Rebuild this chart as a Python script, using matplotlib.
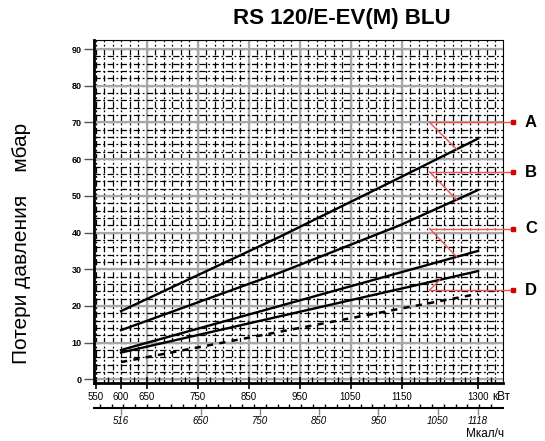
import numpy as np
import matplotlib
matplotlib.use("Agg")
import matplotlib.pyplot as plt

plt.rcParams['font.family'] = ['Liberation Sans', 'DejaVu Sans']

# data (kW vs mbar)
kw_A = [600, 912, 1147, 1300]
mbar_A = [18.6, 38.9, 55.0, 65.6]
kw_B = [600, 912, 1147, 1300]
mbar_B = [13.4, 29.1, 42.0, 51.6]
kw_C = [600, 1300]
mbar_C = [8.0, 35.0]
kw_D = [600, 1300]
mbar_D = [7.3, 29.5]
kw_dash = [600, 1300]
mbar_dash = [4.7, 23.3]

labels = ['A', 'B', 'C', 'D']
label_y = [70.0, 56.5, 41.1, 24.3]

kw_ticks = [550, 600, 650, 750, 850, 950, 1050, 1150, 1300]
mcal_ticks = [650, 750, 850, 950, 1050]
KW_TO_MCAL = 0.86

fig = plt.figure(figsize=(5.45, 4.41), dpi=100)
ax = fig.add_axes([0.1725, 0.1315, 0.7505, 0.778])
ax.set_xlim(547, 1349)
ax.set_ylim(-1, 92.5)

# grid
for x in np.arange(550, 1350, 100 / 6):
    ax.axvline(x, color='black', lw=0.9, ls=(0, (5, 2, 1.5, 2)), zorder=1)
for x in np.arange(650, 1200, 100):
    ax.axvline(x, color='#a8a8a8', lw=1.6, zorder=1)
for y in np.arange(0, 92, 2):
    ax.axhline(y, color='black', lw=0.9, ls=(0, (5, 2, 1.5, 2)), zorder=1)
for y in np.arange(0, 95, 10):
    ax.axhline(y, color='#a8a8a8', lw=1.6, zorder=1)

# curves
ax.plot(kw_A, mbar_A, color='black', lw=1.7, zorder=3)
ax.plot(kw_B, mbar_B, color='black', lw=1.7, zorder=3)
ax.plot(kw_C, mbar_C, color='black', lw=1.7, zorder=3)
ax.plot(kw_D, mbar_D, color='black', lw=1.7, zorder=3)
ax.plot(kw_dash, mbar_dash, color='black', lw=1.8, ls=(0, (2.5, 2.5)), zorder=3)

# red pointers
red = '#ee5555'
curves = [(kw_A, mbar_A), (kw_B, mbar_B), (kw_C, mbar_C), (kw_D, mbar_D)]
for i, (lab, ly) in enumerate(zip(labels, label_y)):
    ax.plot([1205, 1368], [ly, ly], color=red, lw=1.0, clip_on=False, zorder=4)
    ax.plot([1368], [ly], marker='s', ms=3, color='#dd0000', clip_on=False, zorder=5)
    tx = 1225 if lab == 'D' else 1258
    ty = np.interp(tx, curves[i][0], curves[i][1])
    ax.plot([1205, tx], [ly, ty], color=red, lw=1.0, zorder=4)
    ax.text(1392, ly, lab, fontsize=12, fontweight='bold', va='center', ha='left',
            clip_on=False)

# spines and ticks
for s in ['top', 'right']:
    ax.spines[s].set_linewidth(0.8)
ax.spines['left'].set_linewidth(2)
ax.spines['bottom'].set_linewidth(2)

ax.set_yticks(np.arange(0, 91, 10))
ax.set_yticklabels([str(v) for v in range(0, 91, 10)], fontsize=6.5, fontweight='bold')
ax.tick_params(axis='y', length=7, width=1, pad=2, color='#555555')

ax.set_xticks(kw_ticks)
ax.set_xticklabels([str(v) for v in kw_ticks], fontsize=7)
ax.set_xticks(np.arange(550, 1350, 25), minor=True)
ax.tick_params(axis='x', which='major', direction='inout', length=9, width=1.2, pad=2)
ax.tick_params(axis='x', which='minor', direction='in', length=4, width=1)
ax.text(1327, -4.9, 'кВт', fontsize=8.5, ha='left', va='center', clip_on=False)

# second (Mcal/h) axis
sec = ax.secondary_xaxis(-0.073, functions=(lambda k: k * KW_TO_MCAL,
                                            lambda m: m / KW_TO_MCAL))
sec.spines['bottom'].set_linewidth(1.5)
sec.set_xticks(mcal_ticks + [516, 1118])
sec.set_xticklabels([str(v) for v in mcal_ticks] + ['516', '1118'],
                    fontsize=7, style='italic')
sec.set_xticks(np.arange(480, 1160, 20), minor=True)
sec.tick_params(axis='x', which='major', direction='out', length=5, width=1,
                pad=1, color='#888888')
sec.tick_params(axis='x', which='minor', direction='in', length=3, width=1)
fig.text(0.855, 0.003, 'Мкал/ч', fontsize=8.5, ha='left', va='bottom')

fig.text(0.628, 0.958, 'RS 120/E-EV(M) BLU', fontsize=16, fontweight='bold',
         ha='center', va='center')
fig.text(0.04, 0.449, 'Потери давления    мбар', fontsize=15, rotation=90,
         ha='center', va='center')

fig.savefig('out.png', dpi=100)
